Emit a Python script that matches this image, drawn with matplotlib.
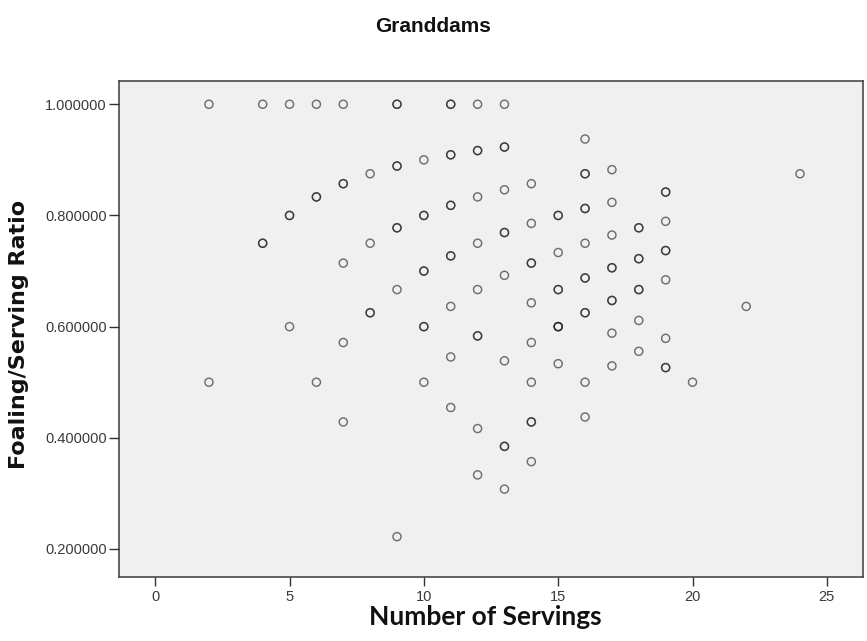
import numpy as np
import matplotlib
matplotlib.use("Agg")
import matplotlib.pyplot as plt

# Each entry is one (servings, foals) combination; "mares" is how many
# granddams share that exact combination (overlapping markers).
servings = [2, 2,
            4, 4,
            5, 5, 5,
            6, 6, 6,
            7, 7, 7, 7, 7,
            8, 8, 8,
            9, 9, 9, 9, 9,
            10, 10, 10, 10, 10,
            11, 11, 11, 11, 11, 11, 11,
            12, 12, 12, 12, 12, 12, 12, 12,
            13, 13, 13, 13, 13, 13, 13, 13,
            14, 14, 14, 14, 14, 14, 14, 14,
            15, 15, 15, 15, 15,
            16, 16, 16, 16, 16, 16, 16, 16,
            17, 17, 17, 17, 17, 17, 17,
            18, 18, 18, 18, 18,
            19, 19, 19, 19, 19, 19,
            20, 22, 24]
foals = [2, 1,
         4, 3,
         5, 4, 3,
         6, 5, 3,
         7, 6, 5, 4, 3,
         7, 6, 5,
         9, 8, 7, 6, 2,
         9, 8, 7, 6, 5,
         11, 10, 9, 8, 7, 6, 5,
         12, 11, 10, 9, 8, 7, 5, 4,
         13, 12, 11, 10, 9, 7, 5, 4,
         12, 11, 10, 9, 8, 7, 6, 5,
         12, 11, 10, 9, 8,
         15, 14, 13, 12, 11, 10, 8, 7,
         15, 14, 13, 12, 11, 10, 9,
         14, 13, 12, 11, 10,
         16, 15, 14, 13, 11, 10,
         10, 14, 21]
mares = [1, 1,
         1, 2,
         1, 2, 1,
         1, 2, 1,
         1, 2, 1, 1, 1,
         1, 1, 2,
         2, 2, 2, 1, 1,
         1, 2, 2, 2, 1,
         2, 2, 2, 2, 1, 1, 1,
         1, 2, 1, 1, 1, 2, 1, 1,
         1, 2, 1, 2, 1, 1, 2, 1,
         1, 1, 2, 1, 1, 1, 2, 1,
         2, 1, 2, 3, 1,
         1, 2, 2, 1, 2, 2, 1, 1,
         1, 1, 1, 2, 2, 1, 1,
         2, 2, 2, 1, 1,
         2, 1, 2, 1, 1, 2,
         1, 1, 1]

x_ticks = [0, 5, 10, 15, 20, 25]
y_ticks = [0.2, 0.4, 0.6, 0.8, 1.0]

x = np.repeat(np.array(servings, dtype=float), mares)
y = np.repeat(np.array(foals, dtype=float) / np.array(servings, dtype=float), mares)

fig = plt.figure(figsize=(8.67, 6.41), dpi=100)
fig.patch.set_facecolor("white")
ax = fig.add_axes([0.1367, 0.1006, 0.8582, 0.7723])
ax.set_facecolor("#F0F0F0")

ax.scatter(x, y, s=34, facecolors="none", edgecolors="#1a1a1a",
           linewidths=1.05, alpha=0.6, zorder=3)

ax.set_xlim(-1.366, 26.33)
ax.set_ylim(0.1505, 1.041)
ax.set_xticks(x_ticks)
ax.set_xticklabels([str(t) for t in x_ticks])
ax.set_yticks(y_ticks)
ax.set_yticklabels([f"{t:.6f}" for t in y_ticks])

for side in ["left", "right", "top", "bottom"]:
    ax.spines[side].set_color("#3a3a3a")
    ax.spines[side].set_linewidth(1.1)

ax.tick_params(axis="x", direction="out", length=6.5, width=1.0,
               color="#333333", pad=3, labelsize=10.5, labelcolor="#3a3a3a")
ax.tick_params(axis="y", direction="out", length=7.5, width=1.0,
               color="#333333", pad=1, labelsize=10.5, labelcolor="#3a3a3a")
for lbl in ax.get_xticklabels() + ax.get_yticklabels():
    lbl.set_family(["Liberation Sans", "DejaVu Sans"])

fig.text(0.5, 1 - 31.7 / 641, "Granddams", ha="center", va="baseline",
         fontsize=15, fontweight="bold",
         family=["Liberation Sans", "DejaVu Sans"], color="#111111")

fig.text(485 / 867, 1 - 625 / 641, "Number of Servings", ha="center",
         va="baseline", fontsize=19, fontweight="bold",
         family=["Lato", "DejaVu Sans"], color="#111111")

fig.text(19 / 867, 1 - 334 / 641, "Foaling/Serving Ratio", ha="center",
         va="center", rotation=90, fontsize=16, fontweight="bold",
         family=["DejaVu Sans"], color="#111111")

fig.savefig("out.png", dpi=100, facecolor="white")
